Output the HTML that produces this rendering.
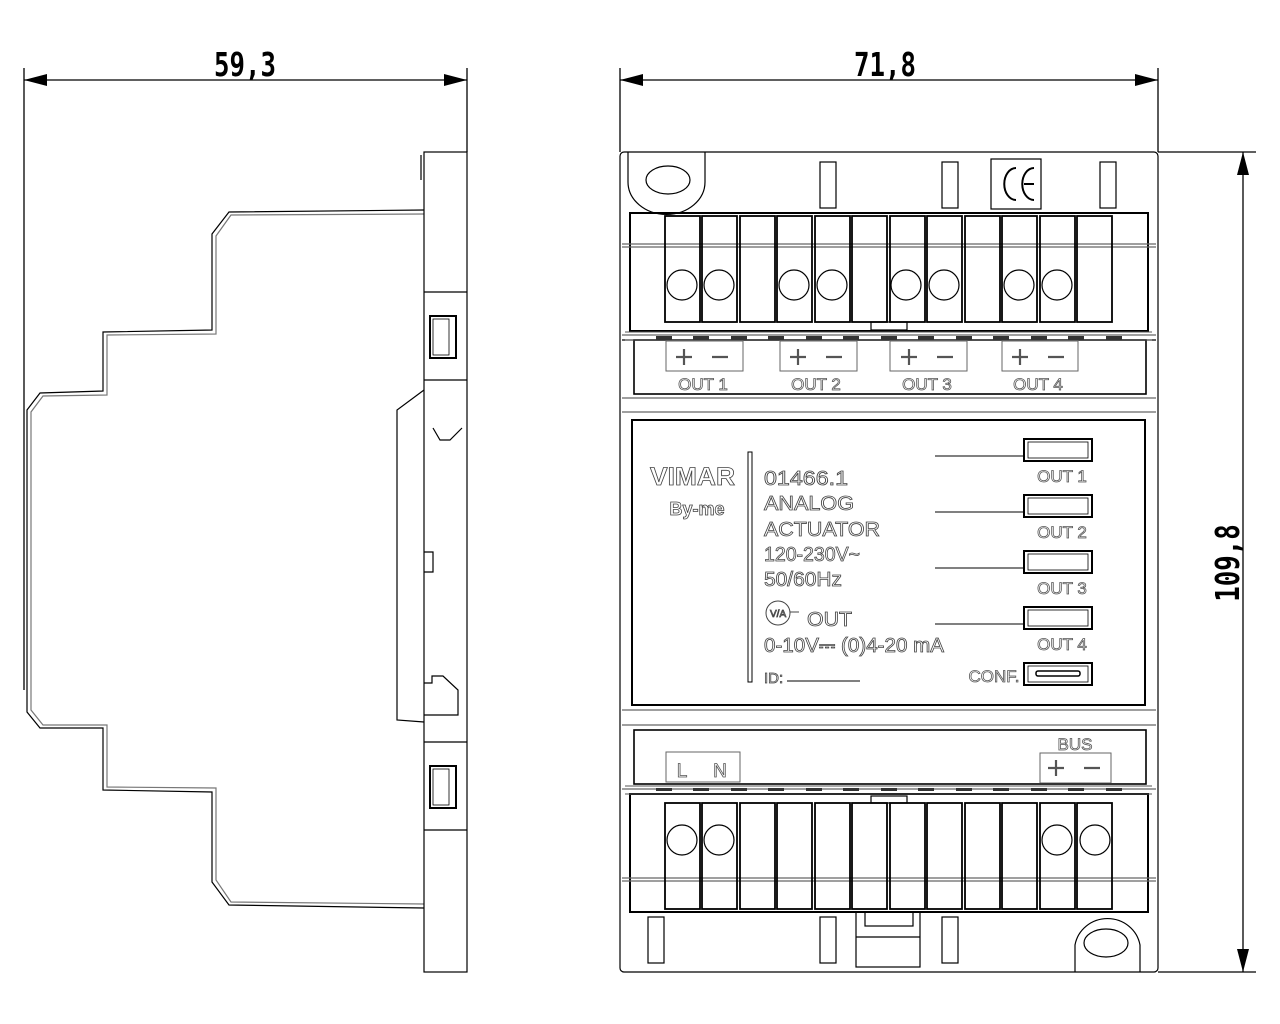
<!DOCTYPE html>
<html><head><meta charset="utf-8"><style>html,body{margin:0;padding:0;background:#fff}svg{display:block}</style></head>
<body>
<svg width="1280" height="1024" viewBox="0 0 1280 1024" xmlns="http://www.w3.org/2000/svg" font-family="Liberation Sans, sans-serif">
<g stroke="#000" fill="none" stroke-width="1.3">
<line x1="24" y1="68" x2="24" y2="690"/>
<line x1="467" y1="68" x2="467" y2="152"/>
<line x1="24" y1="80" x2="467" y2="80"/>
<line x1="620" y1="68" x2="620" y2="152"/>
<line x1="1158" y1="68" x2="1158" y2="152"/>
<line x1="620" y1="80" x2="1158" y2="80"/>
<line x1="1158" y1="152" x2="1256" y2="152"/>
<line x1="1158" y1="972" x2="1256" y2="972"/>
<line x1="1243" y1="152" x2="1243" y2="972"/>
</g>
<g fill="#000">
<polygon points="24,80 47,74 47,86"/><polygon points="467,80 444,74 444,86"/>
<polygon points="620,80 643,74 643,86"/><polygon points="1158,80 1135,74 1135,86"/>
<polygon points="1243,152 1237,175 1249,175"/><polygon points="1243,972 1237,949 1249,949"/>
</g>
<g font-family="DejaVu Sans Mono, monospace" font-size="33" font-weight="bold" fill="#000" text-anchor="middle">
<text x="245" y="76" transform="translate(245 0) scale(0.78 1) translate(-245 0)">59,3</text>
<text x="885" y="76" transform="translate(885 0) scale(0.78 1) translate(-885 0)">71,8</text>
<text transform="translate(1239 563) rotate(-90) scale(0.78 1)" x="0" y="0">109,8</text>
</g>

<!-- side view -->
<g stroke="#000" fill="none" stroke-width="1.2">
<polyline points="424,210 229,212 212,234 212,330 103,332 103,391 40,393 27,410 27,712 40,728 103,728 103,790 212,792 212,882 229,905 424,908"/>
<polyline stroke="#777" points="424,214 231,215 216,236 216,334 107,335 107,395 43,396 31,412 31,710 43,725 107,725 107,787 216,788 216,880 231,902 424,904"/>
<rect x="424" y="152" width="43" height="820"/>
<line x1="424" y1="292" x2="467" y2="292"/><line x1="424" y1="380" x2="467" y2="380"/>
<line x1="424" y1="742" x2="467" y2="742"/><line x1="424" y1="830" x2="467" y2="830"/>
<rect x="430" y="316" width="26" height="42" stroke-width="2"/><rect x="433" y="319" width="16" height="36" stroke-width="0.8"/>
<rect x="430" y="766" width="26" height="42" stroke-width="2"/><rect x="433" y="769" width="16" height="36" stroke-width="0.8"/>
<polyline points="424,390 397,410 397,720 424,722"/>
<polyline points="433,428 440,440 450,440 462,428"/>
<polyline points="424,552 433,552 433,572 424,572"/>
<polyline points="424,683 432,683 432,676 443,676 458,690 458,715 424,715"/>
<line x1="421" y1="155" x2="421" y2="180"/>
</g>

<!-- front view -->
<g stroke="#000" fill="none" stroke-width="1.2">
<rect x="620" y="152" width="538" height="820" rx="4"/>
<path d="M628 152 V182 A38 32 0 0 0 705 182 V152"/>
<ellipse cx="668" cy="180" rx="22" ry="14"/>
<rect x="820" y="162" width="16" height="46"/><rect x="942" y="162" width="16" height="46"/><rect x="1100" y="162" width="16" height="46"/>
<rect x="991" y="159" width="50" height="50"/>
<path d="M1016 168 A11 15 0 0 0 1016 200" stroke-width="2"/>
<path d="M1034 168 A11 15 0 0 0 1034 200 M1024 184 H1034" stroke-width="2"/>
<rect x="630" y="213" width="518" height="118" stroke-width="2"/>
<line x1="622" y1="244" x2="1156" y2="244" stroke="#666"/><line x1="622" y1="247" x2="1156" y2="247" stroke="#666"/>
<line x1="622" y1="335" x2="1156" y2="335" stroke="#666"/>
<line x1="622" y1="340" x2="1156" y2="340"/>
<rect x="634" y="340" width="512" height="54" stroke-width="1.6"/>
<line x1="622" y1="398" x2="1156" y2="398" stroke="#666"/>
<line x1="622" y1="412" x2="1156" y2="412" stroke="#666"/>
<rect x="632" y="420" width="513" height="285" stroke-width="2"/>
<line x1="622" y1="710" x2="1156" y2="710" stroke="#666"/>
<line x1="622" y1="725" x2="1156" y2="725" stroke="#666"/>
<rect x="634" y="730" width="512" height="54" stroke-width="1.6"/>
<line x1="622" y1="789" x2="1156" y2="789" stroke="#666"/>
<rect x="630" y="794" width="518" height="118" stroke-width="2"/>
<line x1="622" y1="878" x2="1156" y2="878" stroke="#666"/><line x1="622" y1="881" x2="1156" y2="881" stroke="#666"/>
<rect x="871" y="322" width="36" height="8"/><rect x="871" y="796" width="36" height="7"/>
<rect x="648" y="917" width="16" height="46"/><rect x="820" y="917" width="16" height="46"/><rect x="942" y="917" width="16" height="46"/>
<rect x="856" y="912" width="64" height="55"/><rect x="865" y="912" width="48" height="14"/><line x1="856" y1="937" x2="920" y2="937"/>
<path d="M1075 972 V945 A33 32 0 0 1 1140 945 V972"/>
<ellipse cx="1106" cy="943" rx="22" ry="14"/>
</g>
<g stroke="#000" fill="none" stroke-width="1.8">
<rect x="665" y="216" width="35" height="106"/><rect x="702" y="216" width="35" height="106"/><rect x="740" y="216" width="35" height="106"/><rect x="777" y="216" width="35" height="106"/><rect x="815" y="216" width="35" height="106"/><rect x="852" y="216" width="35" height="106"/><rect x="890" y="216" width="35" height="106"/><rect x="927" y="216" width="35" height="106"/><rect x="965" y="216" width="35" height="106"/><rect x="1002" y="216" width="35" height="106"/><rect x="1040" y="216" width="35" height="106"/><rect x="1077" y="216" width="35" height="106"/>
<rect x="665" y="803" width="35" height="106"/><rect x="702" y="803" width="35" height="106"/><rect x="740" y="803" width="35" height="106"/><rect x="777" y="803" width="35" height="106"/><rect x="815" y="803" width="35" height="106"/><rect x="852" y="803" width="35" height="106"/><rect x="890" y="803" width="35" height="106"/><rect x="927" y="803" width="35" height="106"/><rect x="965" y="803" width="35" height="106"/><rect x="1002" y="803" width="35" height="106"/><rect x="1040" y="803" width="35" height="106"/><rect x="1077" y="803" width="35" height="106"/>
</g>
<g stroke="#000" fill="#fff" stroke-width="1.2">
<circle cx="682" cy="285" r="15"/><circle cx="719" cy="285" r="15"/><circle cx="794" cy="285" r="15"/><circle cx="832" cy="285" r="15"/><circle cx="906" cy="285" r="15"/><circle cx="944" cy="285" r="15"/><circle cx="1019" cy="285" r="15"/><circle cx="1057" cy="285" r="15"/>
<circle cx="682" cy="840" r="15"/><circle cx="719" cy="840" r="15"/><circle cx="1057" cy="840" r="15"/><circle cx="1095" cy="840" r="15"/>
</g>
<g stroke="#555" fill="none" stroke-width="1">
<path d="M625 332 H1152 M625 340 H1152"/>
<path d="M625 786 H1152 M625 794 H1152"/>
</g>
<g fill="#333">
<rect x="656" y="336" width="16" height="4"/><rect x="693" y="336" width="16" height="4"/><rect x="731" y="336" width="16" height="4"/><rect x="768" y="336" width="16" height="4"/><rect x="806" y="336" width="16" height="4"/><rect x="843" y="336" width="16" height="4"/><rect x="881" y="336" width="16" height="4"/><rect x="918" y="336" width="16" height="4"/><rect x="956" y="336" width="16" height="4"/><rect x="993" y="336" width="16" height="4"/><rect x="1031" y="336" width="16" height="4"/><rect x="1068" y="336" width="16" height="4"/><rect x="1106" y="336" width="16" height="4"/>
<rect x="656" y="788" width="16" height="3"/><rect x="693" y="788" width="16" height="3"/><rect x="731" y="788" width="16" height="3"/><rect x="768" y="788" width="16" height="3"/><rect x="806" y="788" width="16" height="3"/><rect x="843" y="788" width="16" height="3"/><rect x="881" y="788" width="16" height="3"/><rect x="918" y="788" width="16" height="3"/><rect x="956" y="788" width="16" height="3"/><rect x="993" y="788" width="16" height="3"/><rect x="1031" y="788" width="16" height="3"/><rect x="1068" y="788" width="16" height="3"/><rect x="1106" y="788" width="16" height="3"/>
</g>
<g stroke="#666" fill="none" stroke-width="1">
<rect x="666" y="341" width="77" height="30"/><rect x="780" y="341" width="77" height="30"/><rect x="890" y="341" width="77" height="30"/><rect x="1002" y="341" width="76" height="30"/>
<rect x="666" y="752" width="74" height="30"/><rect x="1040" y="753" width="71" height="30"/>
</g>
<g stroke="#555" stroke-width="2.2" fill="none">
<path d="M676 357 H692 M684 349 V365 M712 357 H728"/>
<path d="M790 357 H806 M798 349 V365 M826 357 H842"/>
<path d="M901 357 H917 M909 349 V365 M937 357 H953"/>
<path d="M1012 357 H1028 M1020 349 V365 M1048 357 H1064"/>
<path d="M1048 768 H1064 M1056 760 V776 M1084 768 H1100"/>
</g>
<g font-size="17" fill="#fff" stroke="#555" stroke-width="0.8" text-anchor="middle">
<text x="703" y="390">OUT 1</text><text x="816" y="390">OUT 2</text><text x="927" y="390">OUT 3</text><text x="1038" y="390">OUT 4</text>
<text x="682" y="777" font-size="19">L</text><text x="720" y="777" font-size="19">N</text><text x="1075" y="750">BUS</text>
<text x="1062" y="482">OUT 1</text><text x="1062" y="538">OUT 2</text><text x="1062" y="594">OUT 3</text><text x="1062" y="650">OUT 4</text>
<text x="994" y="682">CONF.</text>
</g>
<g stroke="#000" fill="none">
<rect x="748" y="452" width="4" height="230" stroke-width="1"/>
<rect x="1024" y="439" width="68" height="22" stroke-width="2"/><rect x="1028" y="442" width="60" height="16" stroke-width="0.8"/>
<rect x="1024" y="495" width="68" height="22" stroke-width="2"/><rect x="1028" y="498" width="60" height="16" stroke-width="0.8"/>
<rect x="1024" y="551" width="68" height="22" stroke-width="2"/><rect x="1028" y="554" width="60" height="16" stroke-width="0.8"/>
<rect x="1024" y="607" width="68" height="22" stroke-width="2"/><rect x="1028" y="610" width="60" height="16" stroke-width="0.8"/>
<rect x="1024" y="663" width="68" height="22" stroke-width="2"/><rect x="1028" y="666" width="60" height="16" stroke-width="0.8"/>
<rect x="1036" y="671" width="44" height="5" rx="2" stroke-width="1.5"/>
<line x1="935" y1="456" x2="1024" y2="456"/><line x1="935" y1="512" x2="1024" y2="512"/><line x1="935" y1="568" x2="1024" y2="568"/><line x1="935" y1="624" x2="1024" y2="624"/>
<line x1="787" y1="681" x2="860" y2="681"/>
<circle cx="778" cy="613" r="12" stroke="#444"/>
<line x1="790" y1="612" x2="799" y2="612" stroke="#444"/>
</g>
<g fill="#fff" stroke="#444" stroke-width="0.8">
<text x="650" y="485" font-size="25" font-weight="bold" textLength="85" lengthAdjust="spacingAndGlyphs">VIMAR</text>
<text x="697" y="515" font-size="18" font-weight="bold" text-anchor="middle">By-me</text>
<g font-size="20">
<text x="764" y="485" textLength="84" lengthAdjust="spacingAndGlyphs">01466.1</text>
<text x="764" y="510" textLength="90" lengthAdjust="spacingAndGlyphs">ANALOG</text>
<text x="764" y="536" textLength="116" lengthAdjust="spacingAndGlyphs">ACTUATOR</text>
<text x="764" y="561" textLength="96" lengthAdjust="spacingAndGlyphs">120-230V~</text>
<text x="764" y="586" textLength="78" lengthAdjust="spacingAndGlyphs">50/60Hz</text>
<text x="807" y="626" textLength="45" lengthAdjust="spacingAndGlyphs">OUT</text>
<text x="764" y="652" textLength="180" lengthAdjust="spacingAndGlyphs">0-10V⎓ (0)4-20 mA</text>
</g>
<text x="764" y="683" font-size="15">ID:</text>
<text x="770" y="617" font-size="10">V/A</text>
</g>
</svg>
</body></html>
